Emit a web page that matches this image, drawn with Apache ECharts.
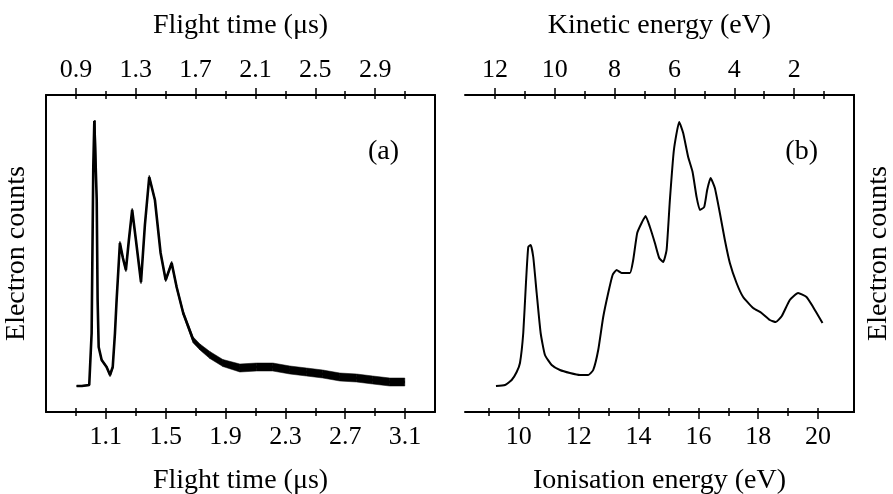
<!DOCTYPE html>
<html>
<head>
<meta charset="utf-8">
<script src="https://cdn.jsdelivr.net/npm/echarts@6/dist/echarts.min.js"></script>
<style>
html,body{margin:0;padding:0;background:#fff;}
#chart{width:893px;height:494px;}
</style>
</head>
<body>
<div id="chart"></div>
<script>
// ---- Panel (a): time-of-flight spectrum ----
const tofTime = [0.905,0.940,0.989,1.005,1.016,1.023,1.029,1.039,1.045,1.052,1.072,1.105,1.128,1.146,1.161,1.172,1.194,1.214,1.234,1.254,1.276,1.301,1.335,1.361,1.390,1.428,1.466,1.500,1.540,1.573,1.617,1.684,1.729,1.795,1.882,1.996,2.108,2.216,2.330,2.441,2.550,2.664,2.776,2.884,2.998,3.098];
const tofCounts = [26,26,27,79,245,291,291,212,112,65,52,45,37,45,79,112,169,154,142,172,202,172,130,187,235,212,159,132,149,125,99,72,65,57,49,44,45,45,42,40,38,35,34,32,30,30];
// half-thickness of the noise band around the trace
const tofSpread = [0.5,0.5,0.5,0.5,0.5,0.5,0.5,0.5,0.5,0.5,1,1,1.5,1.5,1.5,1.5,1.5,1.5,1.5,1.5,1.5,1.5,1.5,1.5,1.5,1.5,1.5,1.5,1.5,2,2,3,3,3.5,3.5,4,4,4,4,4,4,4,4,4,4,4];

// ---- Panel (b): photoelectron spectrum ----
const ieEnergy = [9.235,9.536,9.760,9.927,10.037,10.147,10.237,10.314,10.394,10.481,10.595,10.728,10.872,11.096,11.373,11.707,12.041,12.318,12.485,12.652,12.819,12.986,13.133,13.267,13.434,13.711,13.821,13.955,14.102,14.235,14.379,14.546,14.690,14.823,14.937,15.047,15.181,15.358,15.491,15.658,15.805,15.939,16.049,16.193,16.293,16.407,16.550,16.717,16.884,17.051,17.275,17.495,17.829,18.110,18.387,18.587,18.788,19.055,19.332,19.613,19.833,20.147];
const ieCounts = [26,27,32,40,49,79,129,165,167,155,119,79,57,47,42,39,37,37,42,62,95,119,137,142,139,139,152,179,189,196,185,169,154,150,162,212,262,290,279,255,240,215,202,205,222,234,224,199,172,149,129,115,104,99,92,90,96,112,119,115,105,89];

// ---- tick labels ----
const tofBottomLabels = [1.1,1.5,1.9,2.3,2.7,3.1];
const tofBottomMinor = [0.9,1.3,1.7,2.1,2.5,2.9];
const tofTopLabels = [0.9,1.3,1.7,2.1,2.5,2.9];
const tofTopMinor = [1.1,1.5,1.9,2.3,2.7,3.1];
const ieBottomLabels = [10,12,14,16,18,20];
const ieBottomMinor = [9,11,13,15,17,19];
const keTopLabels = [12,10,8,6,4,2];
const keTopMinor = [11,9,7,5,3,1];

const FONT = 'Liberation Serif';
const LBL = 26, TTL = 28;

function axesFor(gridIndex, position, min, max, inverse, labels, minors, name, fmt) {
  const all = labels.concat(minors);
  const base = {type:'value', gridIndex, position, min, max, inverse, splitLine:{show:false}};
  return [
    Object.assign({}, base, {
      name, nameLocation:'middle', nameGap: 55, nameMoveOverlap:false,
      nameTextStyle:{fontFamily:FONT, fontSize:TTL, color:'#000'},
      axisLine:{show:true, onZero:false, lineStyle:{color:'#000', width:2}},
      axisTick:{show:true, inside:false, length:7, customValues:labels, lineStyle:{color:'#000', width:1.5}},
      axisLabel:{show:true, margin:12, customValues:labels, formatter:fmt, fontFamily:FONT, fontSize:LBL, color:'#000'}
    }),
    Object.assign({}, base, {
      axisLine:{show:false},
      axisTick:{show:true, inside:false, length:4, customValues:minors, lineStyle:{color:'#000', width:1.5}},
      axisLabel:{show:false}
    }),
    Object.assign({}, base, {
      axisLine:{show:false},
      axisTick:{show:true, inside:true, length:4, customValues:all, lineStyle:{color:'#000', width:1.5}},
      axisLabel:{show:false}
    })
  ];
}

const fmt1 = v => Number(v).toFixed(1);
const fmt0 = v => String(Math.round(v));

const xAxes = []
  .concat(axesFor(0,'bottom',0.7,3.3,false,tofBottomLabels,tofBottomMinor,'Flight time (μs)',fmt1))
  .concat(axesFor(0,'top',0.7,3.3,false,tofTopLabels,tofTopMinor,'Flight time (μs)',fmt1))
  .concat(axesFor(1,'bottom',8.2,21.2,false,ieBottomLabels,ieBottomMinor,'Ionisation energy (eV)',fmt0))
  .concat(axesFor(1,'top',0,13,true,keTopLabels,keTopMinor,'Kinetic energy (eV)',fmt0));

const yCommon = {type:'value', min:0, max:317, splitLine:{show:false}, axisTick:{show:false}, axisLabel:{show:false},
  axisLine:{show:true, lineStyle:{color:'#000', width:2}},
  nameLocation:'middle', nameMoveOverlap:false, nameTextStyle:{fontFamily:FONT, fontSize:TTL, color:'#000'}};

const bandData = tofTime.map((t,i)=>[t, tofCounts[i]-tofSpread[i], tofCounts[i]+tofSpread[i]]);

const option = {
  backgroundColor:'#fff',
  animation:false,
  grid:[
    {left:46, top:95, width:389, height:317, outerBoundsMode:'none', containLabel:false},
    {left:465, top:95, width:389, height:317, outerBoundsMode:'none', containLabel:false}
  ],
  title:[
    {text:'(a)', right:893-404, top:133, textStyle:{fontFamily:FONT, fontSize:TTL, fontWeight:'normal', color:'#000'}},
    {text:'(b)', right:893-823, top:133, textStyle:{fontFamily:FONT, fontSize:TTL, fontWeight:'normal', color:'#000'}}
  ],
  xAxis: xAxes,
  yAxis:[
    Object.assign({}, yCommon, {gridIndex:0, position:'left', name:'Electron counts', nameGap:15}),
    Object.assign({}, yCommon, {gridIndex:0, position:'right', name:''}),
    Object.assign({}, yCommon, {gridIndex:1, position:'left', name:''}),
    Object.assign({}, yCommon, {gridIndex:1, position:'right', name:'Electron counts', nameGap:11})
  ],
  series:[
    {type:'custom', name:'tofNoise', xAxisIndex:0, yAxisIndex:0, data:bandData, silent:true,
      renderItem:function(params, api){
        const i = params.dataIndex;
        if (i >= bandData.length-1) return null;
        const a = bandData[i], b = bandData[i+1];
        const pts = [api.coord([a[0],a[2]]), api.coord([b[0],b[2]]), api.coord([b[0],b[1]]), api.coord([a[0],a[1]])];
        return {type:'polygon', shape:{points:pts}, style:{fill:'#000', stroke:'#000', lineWidth:0.5}};
      }},
    {type:'line', name:'tof', xAxisIndex:0, yAxisIndex:0, data:tofTime.map((t,i)=>[t,tofCounts[i]]), symbol:'none',
      lineStyle:{color:'#000', width:2.6}},
    {type:'line', name:'pes', xAxisIndex:6, yAxisIndex:2, data:ieEnergy.map((e,i)=>[e,ieCounts[i]]), symbol:'none',
      smooth:0.15, lineStyle:{color:'#000', width:2}}
  ]
};

const chart = echarts.init(document.getElementById('chart'), null, {renderer:'canvas'});
chart.setOption(option);
</script>
</body>
</html>
